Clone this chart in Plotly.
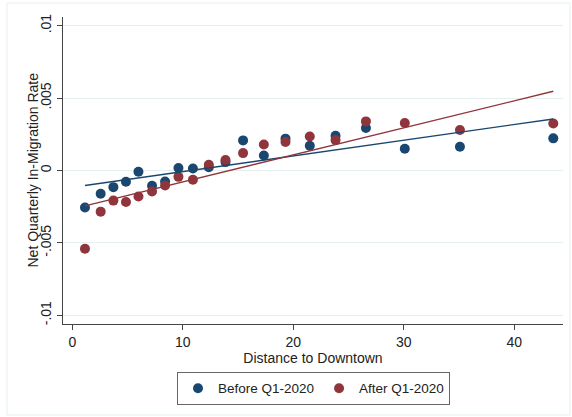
import plotly.graph_objects as go

# ---- data ----
distance = [1.15, 2.57, 3.72, 4.86, 5.99, 7.22, 8.40, 9.61, 10.92, 12.36,
            13.87, 15.46, 17.34, 19.30, 21.5, 23.83, 26.58, 30.1, 35.09, 43.54]
before = [-0.00256, -0.00161, -0.00115, -0.00078, -0.00009, -0.00106, -0.00076,
          0.00017, 0.00014, 0.00023, 0.00058, 0.00208, 0.00104, 0.0022,
          0.00171, 0.0024, 0.00293, 0.0015, 0.00164, 0.00222]
after = [-0.0054, -0.00284, -0.00208, -0.00217, -0.0018, -0.00145, -0.00104,
         -0.00044, -0.00064, 0.00039, 0.00072, 0.0012, 0.0018, 0.00197,
         0.00235, 0.0021, 0.00339, 0.00328, 0.0028, 0.00325]
fit_x = [1.15, 43.54]
before_fit = [-0.00104, 0.00356]
after_fit = [-0.00244, 0.00547]

x_ticks = [0, 10, 20, 30, 40]
y_ticks = [-0.01, -0.005, 0, 0.005, 0.01]
y_ticktext = ["-.01", "-.005", "0", ".005", ".01"]
x_title = "Distance to Downtown"
y_title = "Net Quarterly In-Migration Rate"

NAVY = "#1a476f"
MAROON = "#90353b"
FONT = "Liberation Sans, Arial, sans-serif"

fig = go.Figure()
fig.add_trace(go.Scatter(x=distance, y=before, mode="markers", name="Before Q1-2020",
                         marker=dict(color=NAVY, size=10)))
fig.add_trace(go.Scatter(x=distance, y=after, mode="markers", name="After Q1-2020",
                         marker=dict(color=MAROON, size=10)))
fig.add_trace(go.Scatter(x=fit_x, y=before_fit, mode="lines", showlegend=False,
                         line=dict(color=NAVY, width=1.4)))
fig.add_trace(go.Scatter(x=fit_x, y=after_fit, mode="lines", showlegend=False,
                         line=dict(color=MAROON, width=1.4)))

fig.update_layout(
    width=572, height=417,
    margin=dict(l=63, r=9, t=17, b=93),
    paper_bgcolor="white", plot_bgcolor="white",
    font=dict(family=FONT, size=14, color="#222"),
    showlegend=True,
    legend=dict(orientation="h", x=0.501, xanchor="center", y=-0.156, yanchor="top",
                bordercolor="#666", borderwidth=1, font=dict(size=13.5),
                itemwidth=30),
    xaxis=dict(range=[-0.84, 44.42], tickvals=x_ticks, ticks="outside", ticklen=5,
               tickcolor="#444", showgrid=False, zeroline=False, showline=True,
               linecolor="#444", linewidth=1,
               title=dict(text=x_title, standoff=3, font=dict(size=14)),
               tickfont=dict(size=14)),
    yaxis=dict(range=[-0.0106, 0.0106], tickvals=y_ticks, ticktext=y_ticktext,
               tickangle=-90, ticks="outside", ticklen=5, tickcolor="#444",
               showgrid=True, gridcolor="#e6eff0", gridwidth=1, zeroline=False,
               showline=True, linecolor="#444", linewidth=1,
               tickfont=dict(size=14)),
    annotations=[dict(text=y_title, textangle=-90, xref="paper", yref="paper",
                      x=-0.062, y=0.5, xanchor="center", yanchor="middle",
                      showarrow=False, font=dict(size=14, color="#222"))],
    shapes=[dict(type="rect", xref="paper", yref="paper",
                 x0=-0.112, x1=1.014, y0=-0.2964, y1=1.0456,
                 line=dict(color="#e6eff0", width=1), layer="below")],
)

fig.write_html("out.html")
